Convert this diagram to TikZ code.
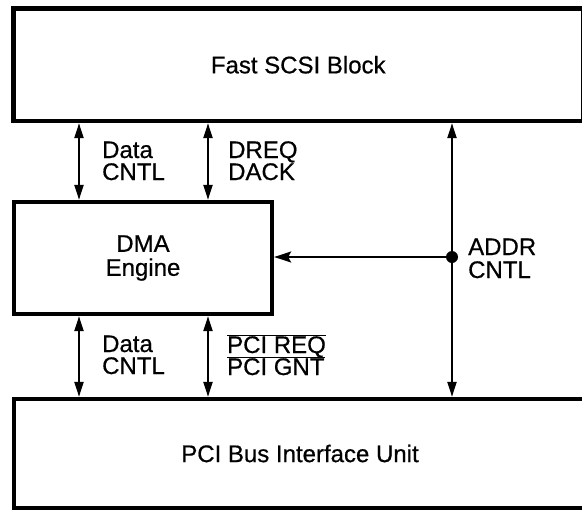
\documentclass[tikz,border=0pt]{standalone}
\usepackage{fontspec}
\setmainfont{Liberation Sans}[FakeBold=0.6]
\usetikzlibrary{arrows.meta}
\begin{document}
\begin{tikzpicture}[x=1pt,y=-1pt,
  box/.style={draw,line width=4.3pt,rectangle,inner sep=0pt,align=center,font=\fontsize{24}{24}\selectfont},
  lbl/.style={anchor=base west,inner sep=0pt,font=\fontsize{24}{24}\selectfont},
  bus/.style={line width=2.2pt,{Triangle[length=15pt,width=9pt]}-{Triangle[length=15pt,width=9pt]}},
  feed/.style={line width=1.8pt,-{Stealth[length=17pt,width=11pt,inset=3pt]}},
  junction/.style={circle,fill,inner sep=0pt,minimum size=12pt}
]
\useasboundingbox (0,0) rectangle (582,512);
\node[box,minimum width=569.5pt,minimum height=112.5pt] (scsi) at (298.25,64.75) {Fast SCSI Block};
\node[box,minimum width=258pt,minimum height=112pt] (dma) at (143,258) {DMA\\Engine};
\node[box,minimum width=572pt,minimum height=109pt] (pci) at (300,453.5) {PCI Bus Interface Unit};
\coordinate (c1) at (79,0);
\coordinate (c2) at (208,0);
\coordinate (c3) at (452,0);
\draw[bus] (scsi.south -| c1) -- (dma.north -| c1);
\draw[bus] (scsi.south -| c2) -- (dma.north -| c2);
\draw[bus] (dma.south -| c1) -- (pci.north -| c1);
\draw[bus] (dma.south -| c2) -- (pci.north -| c2);
\draw[bus] (scsi.south -| c3) -- (pci.north -| c3);
\node[junction] (dot) at (452,257) {};
\draw[feed] (dot.center) -- (dma.east |- dot);
\node[lbl] (d1) at (102,158) {Data};
\node[lbl] (n1) at (102,180) {CNTL};
\node[lbl] (dq) at (228,158) {DREQ};
\node[lbl] (dk) at (228,180) {DACK};
\node[lbl] (d2) at (102,352) {Data};
\node[lbl] (n2) at (102,374) {CNTL};
\node[lbl] (rq) at (227,353) {$\overline{\mbox{PCI REQ}}$};
\node[lbl] (gn) at (227,375) {$\overline{\mbox{PCI GNT}}$};
\node[lbl] (ad) at (468,255) {ADDR};
\node[lbl] (ac) at (468,278) {CNTL};
\end{tikzpicture}
\end{document}
